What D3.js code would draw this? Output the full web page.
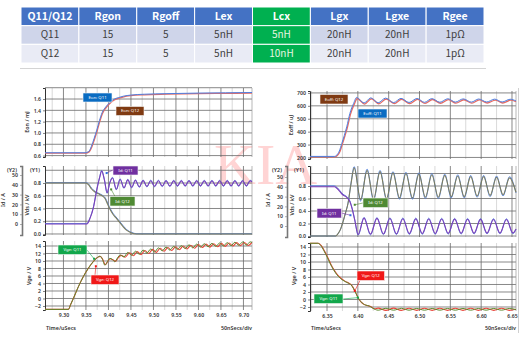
<!DOCTYPE html>
<html><head><meta charset="utf-8">
<script src="https://cdn.jsdelivr.net/npm/d3@7"></script>
<style>html,body{margin:0;padding:0;background:#fff;}svg{display:block;}</style>
</head><body>
<svg id="c" width="530" height="341"></svg>
<script>
// ---------- parameter table ----------
const tableHead = ["Q11/Q12", "Rgon", "Rgoff", "Lex", "Lcx", "Lgx", "Lgxe", "Rgee"];
const rowQ11 = ["Q11", "15", "5", "5nH", "5nH", "20nH", "20nH", "1pΩ"];
const rowQ12 = ["Q12", "15", "5", "5nH", "10nH", "20nH", "20nH", "1pΩ"];
const highlightCol = "Lcx";

// ---------- turn-on waveforms (left column) ----------
const onTicks = [9.30, 9.35, 9.40, 9.45, 9.50, 9.55, 9.60, 9.65, 9.70];
const onMinor = [9.275, 9.325, 9.375, 9.425, 9.475, 9.525, 9.575, 9.625, 9.675];
const eonTicks = [0.6, 0.8, 1.0, 1.2, 1.4, 1.6];
const eonQ11 = [[9.259,0.65],[9.348,0.65],[9.356,0.67],[9.362,0.76],[9.368,0.90],[9.374,1.05],[9.380,1.22],[9.386,1.36],[9.394,1.46],[9.402,1.53],[9.411,1.59],[9.422,1.625],[9.433,1.65],[9.45,1.67],[9.48,1.685],[9.53,1.695],[9.6,1.705],[9.66,1.71],[9.719,1.715]];
const eonQ12 = [[9.259,0.645],[9.349,0.645],[9.357,0.665],[9.363,0.75],[9.369,0.89],[9.375,1.04],[9.381,1.21],[9.387,1.35],[9.395,1.45],[9.403,1.52],[9.412,1.58],[9.423,1.615],[9.434,1.64],[9.45,1.66],[9.48,1.675],[9.53,1.685],[9.6,1.695],[9.66,1.70],[9.719,1.705]];

const kvTicks = [0.0, 0.2, 0.4, 0.6, 0.8];
const ampTicks = [0, 10, 20, 30, 40, 50];
const vdsOnQ11 = [[9.259,0.8],[9.350,0.8],[9.356,0.77],[9.362,0.71],[9.370,0.66],[9.378,0.63],[9.386,0.6],[9.392,0.56],[9.398,0.47],[9.404,0.38],[9.410,0.31],[9.416,0.26],[9.424,0.19],[9.432,0.12],[9.440,0.06],[9.450,0.02],[9.462,0.0],[9.719,0.0]];
const vdsOnQ12 = [[9.259,0.806],[9.351,0.806],[9.357,0.776],[9.363,0.716],[9.371,0.666],[9.379,0.636],[9.387,0.606],[9.393,0.566],[9.399,0.476],[9.405,0.386],[9.411,0.316],[9.417,0.266],[9.425,0.196],[9.433,0.126],[9.441,0.066],[9.451,0.026],[9.463,0.004],[9.719,0.004]];
const idOnQ11 = [[9.259,0],[9.352,0],[9.359,5.8],[9.367,17.6],[9.374,34.7],[9.380,46.6],[9.385,54],[9.391,45],[9.397,32],[9.403,42],[9.409,47],[9.4175,35.5],[9.426,45.5],[9.4345,37],[9.443,45],[9.4515,37.5],[9.460,44.5],[9.4685,38],[9.477,44.3],[9.4855,38.4],[9.494,44.2],[9.5025,38.6],[9.511,44.1],[9.5195,38.8],[9.528,44],[9.5365,38.9],[9.545,44],[9.5535,39],[9.562,44],[9.5705,39],[9.579,44],[9.5875,39],[9.596,44],[9.6045,39],[9.613,44],[9.6215,39],[9.630,44],[9.6385,39],[9.647,44],[9.6555,39],[9.664,44],[9.6725,39],[9.681,44],[9.6895,39],[9.698,44],[9.7065,39],[9.715,44],[9.719,43]];
const idOnQ12 = [[9.259,0.5],[9.352,0.5],[9.359,6.3],[9.367,18.2],[9.374,35.2],[9.380,47.2],[9.385,54.6],[9.391,45.4],[9.397,31.4],[9.403,42.4],[9.409,47.6],[9.4175,34.9],[9.426,46.1],[9.4345,36.4],[9.443,45.6],[9.4515,36.9],[9.460,45.1],[9.4685,37.4],[9.477,44.9],[9.4855,37.8],[9.494,44.8],[9.5025,38],[9.511,44.7],[9.5195,38.2],[9.528,44.6],[9.5365,38.3],[9.545,44.6],[9.5535,38.4],[9.562,44.6],[9.5705,38.4],[9.579,44.6],[9.5875,38.4],[9.596,44.6],[9.6045,38.4],[9.613,44.6],[9.6215,38.4],[9.630,44.6],[9.6385,38.4],[9.647,44.6],[9.6555,38.4],[9.664,44.6],[9.6725,38.4],[9.681,44.6],[9.6895,38.4],[9.698,44.6],[9.7065,38.4],[9.715,44.6],[9.719,43.5]];

const vgeTicks = [-2, 0, 2, 4, 6, 8, 10, 12, 14];
const vgeOnQ11 = [[9.259,-2.9],[9.311,-2.9],[9.316,-1.6],[9.322,0.0],[9.333,3.1],[9.344,5.8],[9.355,8.0],[9.366,9.8],[9.375,10.9],[9.381,11.3],[9.386,10.6],[9.392,8.9],[9.398,9.9],[9.403,10.7],[9.409,10.4],[9.414,9.8],[9.420,10.8],[9.426,11.6],[9.4345,11.1],[9.443,12.3],[9.4515,11.5],[9.460,12.6],[9.4685,11.8],[9.477,12.9],[9.4855,12.1],[9.494,13.2],[9.5025,12.4],[9.511,13.5],[9.5195,12.7],[9.528,13.7],[9.5365,12.9],[9.545,13.9],[9.5535,13.1],[9.562,14.1],[9.5705,13.3],[9.579,14.3],[9.5875,13.5],[9.596,14.5],[9.6045,13.7],[9.613,14.6],[9.6215,13.8],[9.630,14.7],[9.6385,13.9],[9.647,14.8],[9.6555,14.0],[9.664,14.9],[9.6725,14.1],[9.681,15.0],[9.6895,14.2],[9.698,15.05],[9.7065,14.25],[9.715,15.1],[9.719,14.9]];
const vgeOnQ12 = [[9.259,-2.9],[9.311,-2.9],[9.316,-1.6],[9.322,0.0],[9.333,3.1],[9.344,5.8],[9.355,8.0],[9.366,9.8],[9.375,10.9],[9.382,11.2],[9.387,10.5],[9.393,9.0],[9.399,10.0],[9.404,10.6],[9.410,10.3],[9.416,9.9],[9.422,10.9],[9.428,11.5],[9.437,11.0],[9.447,12.2],[9.4555,11.4],[9.464,12.5],[9.4725,11.7],[9.481,12.8],[9.4895,12.0],[9.498,13.1],[9.5065,12.3],[9.515,13.4],[9.5235,12.6],[9.532,13.6],[9.5405,12.8],[9.549,13.8],[9.5575,13.0],[9.566,14.0],[9.5745,13.2],[9.583,14.2],[9.5915,13.4],[9.600,14.4],[9.6085,13.6],[9.617,14.5],[9.6255,13.7],[9.634,14.6],[9.6425,13.8],[9.651,14.7],[9.6595,13.9],[9.668,14.8],[9.6765,14.0],[9.685,14.9],[9.6935,14.1],[9.702,14.95],[9.7105,14.15],[9.719,14.95]];

// ---------- turn-off waveforms (right column) ----------
const offTicks = [6.35, 6.40, 6.45, 6.50, 6.55, 6.60, 6.65];
const offMinor = [6.325, 6.375, 6.425, 6.475, 6.525, 6.575, 6.625];
const eoffTicks = [200, 300, 400, 500, 600, 700];
const eoffQ11 = [[6.3224,208],[6.362,208],[6.366,219],[6.370,250],[6.374,309],[6.378,370],[6.382,437],[6.387,540],[6.393,617],[6.398,665],[6.410,622],[6.421,662],[6.433,624],[6.445,660],[6.458,625],[6.470,658],[6.483,626],[6.496,657],[6.508,627],[6.520,656],[6.533,628],[6.546,655],[6.558,629],[6.571,654],[6.584,629],[6.596,653],[6.609,630],[6.622,652],[6.634,630],[6.647,651],[6.6565,638]];
const eoffQ12 = [[6.3224,205],[6.363,205],[6.367,216],[6.371,247],[6.375,305],[6.379,366],[6.383,432],[6.388,534],[6.394,610],[6.399,657],[6.411,614],[6.422,655],[6.434,616],[6.446,653],[6.459,617],[6.471,651],[6.484,618],[6.497,650],[6.509,619],[6.521,649],[6.534,620],[6.547,648],[6.559,621],[6.572,647],[6.585,621],[6.597,646],[6.610,622],[6.623,645],[6.635,622],[6.648,644],[6.6565,632]];

const vdsOffQ11 = [[6.3224,0],[6.364,0],[6.368,0.04],[6.372,0.11],[6.376,0.23],[6.380,0.37],[6.384,0.52],[6.389,0.84],[6.394,1.09],[6.4045,0.58],[6.415,1.05],[6.4255,0.59],[6.436,1.03],[6.4465,0.60],[6.457,1.01],[6.4675,0.61],[6.478,1.0],[6.4885,0.61],[6.499,0.99],[6.5095,0.62],[6.520,0.98],[6.5305,0.62],[6.541,0.97],[6.5515,0.63],[6.562,0.96],[6.5725,0.63],[6.583,0.95],[6.5935,0.64],[6.604,0.95],[6.6145,0.65],[6.625,0.94],[6.6355,0.66],[6.646,0.93],[6.6565,0.70]];
const vdsOffQ12 = [[6.3224,0],[6.364,0],[6.368,0.04],[6.372,0.11],[6.376,0.23],[6.380,0.37],[6.384,0.52],[6.389,0.85],[6.394,1.11],[6.4045,0.56],[6.415,1.07],[6.4255,0.57],[6.436,1.05],[6.4465,0.58],[6.457,1.03],[6.4675,0.59],[6.478,1.02],[6.4885,0.59],[6.499,1.01],[6.5095,0.60],[6.520,1.0],[6.5305,0.60],[6.541,0.99],[6.5515,0.61],[6.562,0.98],[6.5725,0.61],[6.583,0.97],[6.5935,0.62],[6.604,0.97],[6.6145,0.63],[6.625,0.96],[6.6355,0.64],[6.646,0.95],[6.6565,0.69]];
const idOffQ11 = [[6.3224,40],[6.362,40],[6.366,38.5],[6.371,35],[6.376,31.6],[6.382,29.3],[6.387,25],[6.391,17],[6.395,6],[6.4005,-8.5],[6.410,8],[6.4205,-8.3],[6.431,7.8],[6.4415,-8.1],[6.452,7.6],[6.4625,-8],[6.473,7.4],[6.4835,-7.8],[6.494,7.3],[6.5045,-7.7],[6.515,7.2],[6.5255,-7.6],[6.536,7.1],[6.5465,-7.5],[6.557,7],[6.5675,-7.4],[6.578,6.9],[6.5885,-7.3],[6.599,6.8],[6.6095,-7.2],[6.620,6.7],[6.6305,-7.1],[6.641,6.6],[6.6515,-7],[6.6565,-3]];
const idOffQ12 = [[6.3224,41],[6.362,41],[6.366,39.5],[6.371,36],[6.376,32.4],[6.382,30],[6.387,25.6],[6.391,17.5],[6.395,6.4],[6.4005,-9.3],[6.410,8.8],[6.4205,-9.1],[6.431,8.6],[6.4415,-8.9],[6.452,8.4],[6.4625,-8.8],[6.473,8.2],[6.4835,-8.6],[6.494,8.1],[6.5045,-8.5],[6.515,8],[6.5255,-8.4],[6.536,7.9],[6.5465,-8.3],[6.557,7.8],[6.5675,-8.2],[6.578,7.7],[6.5885,-8.1],[6.599,7.6],[6.6095,-8],[6.620,7.5],[6.6305,-7.9],[6.641,7.4],[6.6515,-7.8],[6.6565,-3.4]];

const vgeOffQ11 = [[6.3224,15.0],[6.335,15.0],[6.340,14.4],[6.345,13.0],[6.350,11.4],[6.355,9.6],[6.360,8.1],[6.366,6.6],[6.372,5.6],[6.378,4.9],[6.384,4.4],[6.389,3.9],[6.393,2.9],[6.397,1.6],[6.401,0.3],[6.405,-0.6],[6.409,-1.2],[6.413,-1.5],[6.418,-1.7],[6.424,-2.3],[6.433,-2.85],[6.4455,-2.35],[6.458,-2.85],[6.4705,-2.35],[6.483,-2.85],[6.4955,-2.4],[6.508,-2.85],[6.5205,-2.4],[6.533,-2.85],[6.5455,-2.4],[6.558,-2.85],[6.5705,-2.4],[6.583,-2.85],[6.5955,-2.4],[6.608,-2.85],[6.6205,-2.4],[6.633,-2.85],[6.6455,-2.4],[6.6565,-2.7]];
const vgeOffQ12 = [[6.3224,15.0],[6.336,15.0],[6.341,14.3],[6.346,12.9],[6.351,11.3],[6.356,9.5],[6.361,8.0],[6.367,6.6],[6.373,5.6],[6.379,4.9],[6.385,4.4],[6.390,3.8],[6.394,2.7],[6.398,1.3],[6.402,0.0],[6.406,-0.8],[6.410,-1.3],[6.415,-1.6],[6.421,-1.9],[6.427,-2.5],[6.433,-2.3],[6.4455,-2.9],[6.458,-2.3],[6.4705,-2.9],[6.483,-2.35],[6.4955,-2.9],[6.508,-2.35],[6.5205,-2.9],[6.533,-2.35],[6.5455,-2.9],[6.558,-2.35],[6.5705,-2.9],[6.583,-2.35],[6.5955,-2.9],[6.608,-2.35],[6.6205,-2.9],[6.633,-2.35],[6.6455,-2.9],[6.6565,-2.6]];

// ---------- drawing ----------
const svg = d3.select("#c");
const FONT = "'Noto Sans', 'DejaVu Sans', sans-serif";
const C = {
  blue: "#4f7fe0", red: "#e66b63", purple: "#7d3fb8", olive: "#7c7c5c",
  green: "#5c8a2e", vred: "#e8453a",
  tagBlue: "#0a6cc2", tagBrown: "#7f3a12", tagPurple: "#7030a0",
  tagGreen: "#4f8a34", tagVgeGreen: "#12a74b", tagRed: "#f01818"
};

// table
const tx = d3.scaleBand().domain(tableHead).range([21, 484]);
const ty = d3.scaleBand().domain(["head", "Q11", "Q12"]).range([7, 63]);
const rows = [{k: "head", v: tableHead}, {k: "Q11", v: rowQ11}, {k: "Q12", v: rowQ12}];
const rowFill = {head: "#4472c4", Q11: "#cfd5ea", Q12: "#e9ebf5"};
const tbl = svg.append("g");
rows.forEach(r => {
  r.v.forEach((val, i) => {
    const col = tableHead[i];
    const hi = col === highlightCol;
    tbl.append("rect").attr("x", tx(col)).attr("y", ty(r.k))
      .attr("width", tx.bandwidth()).attr("height", ty.bandwidth())
      .attr("fill", hi ? "#00b050" : rowFill[r.k])
      .attr("stroke", "#fff").attr("stroke-width", 1);
    tbl.append("text").attr("x", tx(col) + tx.bandwidth() / 2)
      .attr("y", ty(r.k) + ty.bandwidth() / 2 + 0.5)
      .attr("text-anchor", "middle").attr("dominant-baseline", "middle")
      .attr("font-family", "'Noto Sans CJK SC', 'Noto Sans', sans-serif")
      .attr("font-size", r.k === "head" ? 10.5 : 10)
      .attr("font-weight", r.k === "head" ? 700 : 400)
      .attr("fill", r.k === "head" ? "#fff" : (hi ? "#e8f5e0" : "#404040"))
      .text(val);
  });
});
svg.append("line").attr("x1", 20).attr("x2", 486).attr("y1", 68.5).attr("y2", 68.5)
  .attr("stroke", "#d4d4d4").attr("stroke-width", 1);

// watermark
svg.append("text").attr("x", 214).attr("y", 184)
  .attr("font-family", "'Liberation Serif', 'DejaVu Serif', serif")
  .attr("font-size", 58).attr("fill", "#ff4b4b").attr("fill-opacity", 0.24)
  .text("KIA");

function panel(cfg) {
  const x = d3.scaleLinear().domain(cfg.xd).range([cfg.left, cfg.right]);
  const y = d3.scaleLinear().domain(cfg.yd).range([cfg.bottom, cfg.top]);
  const g = svg.append("g");
  g.selectAll(null).data(cfg.xMinor).join("line")
    .attr("x1", d => x(d)).attr("x2", d => x(d))
    .attr("y1", cfg.top).attr("y2", cfg.bottom)
    .attr("stroke", "#c8c8c8").attr("stroke-width", 0.7);
  g.selectAll(null).data(cfg.xTicks).join("line")
    .attr("x1", d => x(d)).attr("x2", d => x(d))
    .attr("y1", cfg.top).attr("y2", cfg.bottom)
    .attr("stroke", "#6a6a6a").attr("stroke-width", 0.8);
  g.selectAll(null).data(cfg.yGrid).join("line")
    .attr("x1", cfg.left).attr("x2", cfg.right)
    .attr("y1", d => y(d)).attr("y2", d => y(d))
    .attr("stroke", "#6a6a6a").attr("stroke-width", 0.8);
  g.append("line").attr("x1", cfg.right).attr("x2", cfg.right)
    .attr("y1", cfg.top).attr("y2", cfg.bottom)
    .attr("stroke", "#9a9a9a").attr("stroke-width", 0.7);
  const ax = g.append("g").attr("transform", `translate(${cfg.left},0)`)
    .call(d3.axisLeft(y).tickValues(cfg.yTicks).tickSize(2).tickPadding(2).tickFormat(cfg.fmt));
  styleAxis(ax, "#333");
  return {x, y, g};
}

function styleAxis(ax, col) {
  ax.select(".domain").attr("stroke", col).attr("stroke-width", 1);
  ax.selectAll(".tick line").attr("stroke", col).attr("stroke-width", 0.6);
  ax.selectAll(".tick text").attr("font-family", FONT).attr("font-size", 5.2)
    .attr("fill", "#333").attr("font-weight", 600);
}

function yTitle(x, y, txt) {
  svg.append("text").attr("transform", `translate(${x},${y}) rotate(-90)`)
    .attr("text-anchor", "middle").attr("font-family", FONT).attr("font-size", 5.4)
    .attr("font-weight", 600).attr("fill", "#333").text(txt);
}

function smallText(x, y, txt, anchor) {
  svg.append("text").attr("x", x).attr("y", y).attr("text-anchor", anchor || "start")
    .attr("font-family", FONT).attr("font-size", 5.4).attr("font-weight", 600)
    .attr("fill", "#333").text(txt);
}

function curve(p, data, color, width, yScale) {
  const ys = yScale || p.y;
  const line = d3.line().x(d => p.x(d[0])).y(d => ys(d[1])).curve(d3.curveMonotoneX);
  p.g.append("path").datum(data).attr("d", line).attr("fill", "none")
    .attr("stroke", color).attr("stroke-width", width).attr("stroke-linejoin", "round");
}

function tag(p, box, text, color, anchor, dotColor, yScale) {
  const g = svg.append("g");
  if (anchor) {
    const ys = yScale || p.y;
    const ax = p.x(anchor.at[0]), ay = ys(anchor.at[1]);
    g.append("line").attr("x1", anchor.from[0]).attr("y1", anchor.from[1])
      .attr("x2", ax).attr("y2", ay).attr("stroke", color).attr("stroke-width", 0.6);
    g.append("rect").attr("x", ax - 1).attr("y", ay - 1).attr("width", 2).attr("height", 2)
      .attr("fill", dotColor || color);
  }
  g.append("rect").attr("x", box[0]).attr("y", box[1]).attr("width", box[2]).attr("height", box[3])
    .attr("fill", color).attr("stroke", "#f4f4f4").attr("stroke-width", 0.6);
  g.append("text").attr("x", box[0] + box[2] / 2).attr("y", box[1] + box[3] / 2 + 0.3)
    .attr("text-anchor", "middle").attr("dominant-baseline", "middle")
    .attr("font-family", FONT).attr("font-size", 4.3).attr("fill", "#fff").text(text);
}

const f1 = d3.format(".1f");
const f0 = d3.format("d");

// ---- left column: turn-on ----
const L = {left: 45, right: 252, xd: [9.259, 9.719], xTicks: onTicks, xMinor: onMinor};
const pEon = panel({...L, top: 88, bottom: 157, yd: [0.575, 1.795], yTicks: eonTicks, yGrid: eonTicks.concat([1.8]), fmt: f1});
curve(pEon, eonQ12, C.red, 1.3);
curve(pEon, eonQ11, C.blue, 1.0);
yTitle(29, 122, "Eon / mJ");
tag(pEon, [83, 93, 29, 9], "Eon: Q11", C.tagBlue);
tag(pEon, [116, 106.5, 28, 9], "Eon: Q12", C.tagBrown);

const pVon = panel({...L, top: 166, bottom: 235, yd: [-0.016, 1.067], yTicks: kvTicks, yGrid: kvTicks.concat([1.0]), fmt: f1});
const yIdOn = d3.scaleLinear().domain([-11.2, 59.2]).range([235, 166]);
curve(pVon, vdsOnQ12, C.blue, 0.9);
curve(pVon, vdsOnQ11, C.olive, 1.1);
curve(pVon, idOnQ12, C.blue, 0.9, yIdOn);
curve(pVon, idOnQ11, C.purple, 1.1, yIdOn);
const y2On = svg.append("g").attr("transform", "translate(22,0)")
  .call(d3.axisLeft(yIdOn).tickValues(ampTicks).tickSize(2).tickPadding(2).tickFormat(f0));
styleAxis(y2On, "#777");
y2On.select(".domain").attr("stroke-width", 1.6);
smallText(12, 171.5, "(Y2)", "middle");
smallText(35, 171.5, "(Y1)", "middle");
yTitle(5, 200, "Id / A");
yTitle(29, 205, "Vds / kV");
tag(pVon, [113, 166, 25, 9], "Id: Q11", C.tagPurple, {from: [113, 170], at: [9.396, 52]}, "#2f6fe0", yIdOn);
tag(pVon, [110, 196.5, 25, 9.5], "Id: Q12", C.tagGreen, {from: [115, 196.5], at: [9.406, 0.70]});

const pGon = panel({...L, top: 241, bottom: 310, yd: [-3.07, 15.33], yTicks: vgeTicks, yGrid: vgeTicks, fmt: f0});
curve(pGon, vgeOnQ12, C.vred, 1.1);
curve(pGon, vgeOnQ11, C.green, 1.0);
yTitle(31, 276, "Vge / V");
tag(pGon, [58, 245, 29, 9.5], "Vge: Q11", C.tagVgeGreen, {from: [87, 250], at: [9.368, 10.6]});
tag(pGon, [91, 275, 28, 9.5], "Vge: Q12", C.tagRed, {from: [95, 275], at: [9.372, 8.6]});
const xaL = svg.append("g").attr("transform", "translate(0,310)")
  .call(d3.axisBottom(pGon.x).tickValues(onTicks).tickSize(0).tickPadding(3).tickFormat(d3.format(".2f")));
xaL.select(".domain").remove();
xaL.selectAll("text").attr("font-family", FONT).attr("font-size", 5.2).attr("fill", "#333").attr("font-weight", 600);
smallText(46, 330, "Time/uSecs");
smallText(252, 330, "50nSecs/div", "end");

// ---- right column: turn-off ----
const R = {left: 310, right: 516, xd: [6.3224, 6.6565], xTicks: offTicks, xMinor: offMinor};
const pEoff = panel({...R, top: 91, bottom: 159, yd: [188, 715], yTicks: eoffTicks, yGrid: eoffTicks, fmt: f0});
curve(pEoff, eoffQ12, C.red, 1.3);
curve(pEoff, eoffQ11, C.blue, 1.0);
yTitle(293, 125, "Eoff / uJ");
tag(pEoff, [320, 94.5, 28, 9.5], "Eoff: Q12", C.tagBrown);
tag(pEoff, [358, 109, 29, 9], "Eoff: Q11", C.tagBlue);

const pVoff = panel({...R, top: 166, bottom: 237, yd: [-0.016, 1.12], yTicks: kvTicks, yGrid: kvTicks.concat([1.0]), fmt: f1});
const yIdOff = d3.scaleLinear().domain([-11.2, 61.2]).range([237, 166]);
curve(pVoff, vdsOffQ12, C.blue, 0.9);
curve(pVoff, vdsOffQ11, C.olive, 1.1);
curve(pVoff, idOffQ12, C.blue, 0.9, yIdOff);
curve(pVoff, idOffQ11, C.purple, 1.1, yIdOff);
const y2Off = svg.append("g").attr("transform", "translate(287,0)")
  .call(d3.axisLeft(yIdOff).tickValues(ampTicks).tickSize(2).tickPadding(2).tickFormat(f0));
styleAxis(y2Off, "#777");
y2Off.select(".domain").attr("stroke-width", 1.6);
smallText(277, 171.5, "(Y2)", "middle");
smallText(299, 171.5, "(Y1)", "middle");
yTitle(270, 200, "Id / A");
yTitle(294, 205, "Vds / kV");
tag(pVoff, [363, 198, 25, 9.5], "Id: Q12", C.tagGreen, {from: [363, 203], at: [6.395, 0.5]});
tag(pVoff, [317, 208.5, 24.5, 9.5], "Id: Q11", C.tagPurple, {from: [341.5, 213], at: [6.388, 11]}, "#2f6fe0", yIdOff);

const pGoff = panel({...R, top: 243, bottom: 311, yd: [-3.07, 15.07], yTicks: vgeTicks, yGrid: vgeTicks, fmt: f0});
curve(pGoff, vgeOffQ12, C.vred, 1.1);
curve(pGoff, vgeOffQ11, C.green, 1.0);
yTitle(296, 276, "Vge / V");
tag(pGoff, [357, 271, 27.5, 9.5], "Vge: Q12", C.tagRed, {from: [360, 280.5], at: [6.395, 2.3]});
tag(pGoff, [314, 294, 29, 9.5], "Vge: Q11", C.tagVgeGreen, {from: [343, 299], at: [6.400, 0.5]});
const xaR = svg.append("g").attr("transform", "translate(0,311)")
  .call(d3.axisBottom(pGoff.x).tickValues(offTicks).tickSize(0).tickPadding(3).tickFormat(d3.format(".2f")));
xaR.select(".domain").remove();
xaR.selectAll("text").attr("font-family", FONT).attr("font-size", 5.2).attr("fill", "#333").attr("font-weight", 600);
smallText(311, 330, "Time/uSecs");
smallText(516, 330, "50nSecs/div", "end");

// frame edge on the right column
svg.append("line").attr("x1", 518.5).attr("x2", 518.5).attr("y1", 88).attr("y2", 333)
  .attr("stroke", "#d0d0d0").attr("stroke-width", 1);
</script>
</body></html>
